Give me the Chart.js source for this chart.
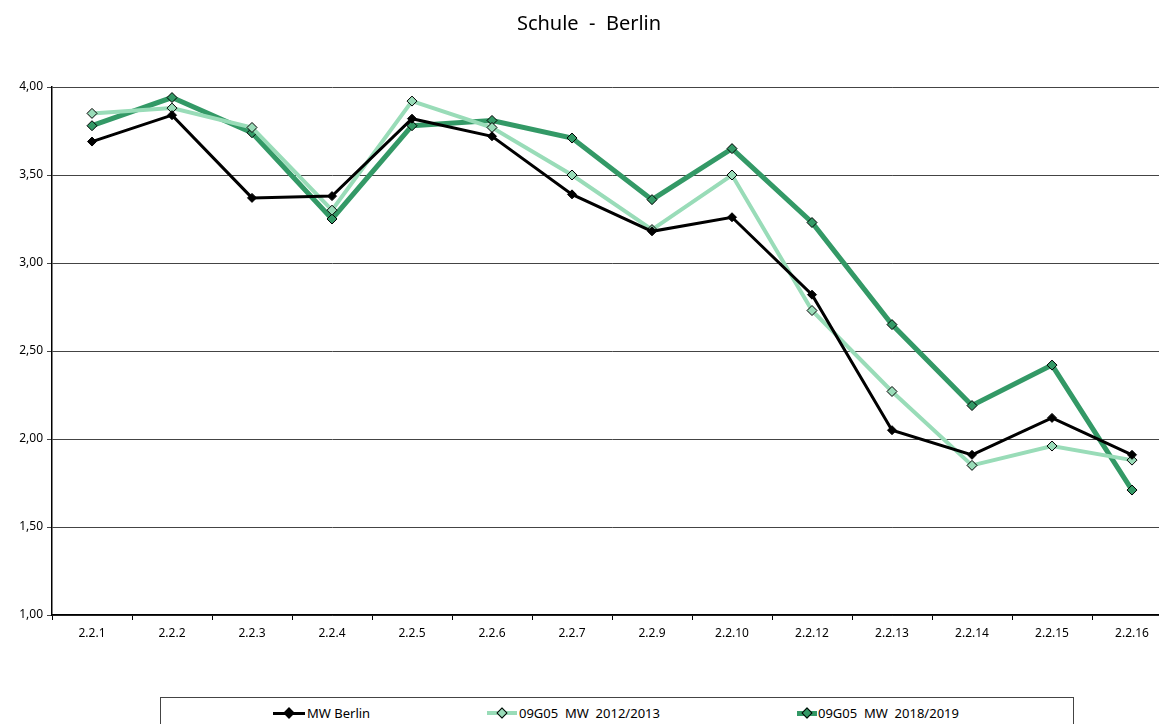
<!DOCTYPE html>
<html>
<head>
<meta charset="utf-8">
<script src="https://cdn.jsdelivr.net/npm/chart.js@4/dist/chart.umd.min.js"></script>
<style>
  html, body { margin: 0; background: #fff; font-family: "Noto Sans", sans-serif; overflow: hidden; }
  #wrap { position: absolute; left: 0; top: 0; width: 1178px; height: 662px; }
  #legend {
    position: absolute; left: 160px; top: 697px; width: 912px; height: 40px;
    border: 1px solid #444; font-size: 13px; color: #000;
  }
  .item { position: absolute; top: 6px; height: 18px; line-height: 18px; white-space: pre; }
  .sym { position: absolute; top: 15px; height: 0; }
  .dia { position: absolute; width: 6px; height: 6px; transform: rotate(45deg); border: 1px solid #000; }
</style>
</head>
<body>
<div id="wrap"><canvas id="chart"></canvas></div>
<div id="legend"></div>
<script>
// Kategorien und Werte
const categories = ['2.2.1', '2.2.2', '2.2.3', '2.2.4', '2.2.5', '2.2.6', '2.2.7', '2.2.9', '2.2.10', '2.2.12', '2.2.13', '2.2.14', '2.2.15', '2.2.16'];
const mwBerlin = [3.69, 3.84, 3.37, 3.38, 3.82, 3.72, 3.39, 3.18, 3.26, 2.82, 2.05, 1.91, 2.12, 1.91];
const mw2012 = [3.85, 3.88, 3.77, 3.30, 3.92, 3.77, 3.50, 3.19, 3.50, 2.73, 2.27, 1.85, 1.96, 1.88];
const mw2018 = [3.78, 3.94, 3.74, 3.25, 3.78, 3.81, 3.71, 3.36, 3.65, 3.23, 2.65, 2.19, 2.42, 1.71];
const yTicks = [1.0, 1.5, 2.0, 2.5, 3.0, 3.5, 4.0];

const series = [
  { label: 'MW Berlin', data: mwBerlin, color: '#000000', width: 3, radius: 4.5 },
  { label: '09G05  MW  2012/2013', data: mw2012, color: '#99dcb8', width: 4, radius: 5 },
  { label: '09G05  MW  2018/2019', data: mw2018, color: '#339966', width: 5, radius: 5 }
];

const ctx = document.getElementById('chart').getContext('2d');
const chart = new Chart(ctx, {
  type: 'line',
  data: {
    labels: categories,
    datasets: series.map(s => ({
      label: s.label,
      data: s.data,
      borderColor: s.color,
      borderWidth: s.width,
      backgroundColor: s.color,
      pointStyle: 'rectRot',
      pointRadius: s.radius,
      pointBackgroundColor: s.color,
      pointBorderColor: '#000',
      pointBorderWidth: 1,
      tension: 0
    }))
  },
  options: {
    responsive: true,
    maintainAspectRatio: false,
    animation: false,
    layout: { padding: 0 },
    plugins: {
      legend: { display: false },
      tooltip: { enabled: false },
      title: {
        display: true,
        text: 'Schule  -  Berlin',
        color: '#000',
        font: { family: 'Noto Sans', size: 20, weight: 'normal' },
        padding: { top: 12, bottom: 51 }
      }
    },
    scales: {
      x: {
        offset: true,
        grid: { offset: true, drawOnChartArea: false, drawTicks: true, tickLength: 5, color: '#000' },
        border: { color: '#000', width: 1.5 },
        ticks: { color: '#000', font: { family: 'Noto Sans', size: 12 }, padding: 6 },
        afterFit: s => { s.height = 47; s.paddingLeft = 0; s.paddingRight = 0; }
      },
      y: {
        min: 1, max: 4,
        afterBuildTicks: s => { s.ticks = yTicks.map(v => ({ value: v })); },
        grid: { color: '#444', lineWidth: 1, tickLength: 5 },
        border: { color: '#000', width: 1.5 },
        ticks: {
          color: '#000', font: { family: 'Noto Sans', size: 12 }, padding: 4,
          callback: v => v.toFixed(2).replace('.', ',')
        },
        afterFit: s => { s.width = 52; }
      }
    }
  }
});

// Legende als HTML
const legendPos = [
  { line: 273, lineW: 32, text: 307 },
  { line: 487, lineW: 30, text: 519 },
  { line: 797, lineW: 20, text: 818 }
];
const legend = document.getElementById('legend');
series.forEach((s, i) => {
  const p = legendPos[i];
  const sym = document.createElement('div');
  sym.className = 'sym';
  sym.style.left = (p.line - 161) + 'px';
  sym.style.width = p.lineW + 'px';
  sym.style.borderTop = s.width + 'px solid ' + s.color;
  sym.style.marginTop = (-s.width / 2) + 'px';
  const d = document.createElement('div');
  d.className = 'dia';
  d.style.background = s.color;
  d.style.left = (p.lineW / 2 - 4) + 'px';
  d.style.top = (-s.width / 2 - 4) + 'px';
  sym.appendChild(d);
  legend.appendChild(sym);
  const t = document.createElement('div');
  t.className = 'item';
  t.style.left = (p.text - 161) + 'px';
  t.textContent = s.label;
  legend.appendChild(t);
});
</script>
</body>
</html>
